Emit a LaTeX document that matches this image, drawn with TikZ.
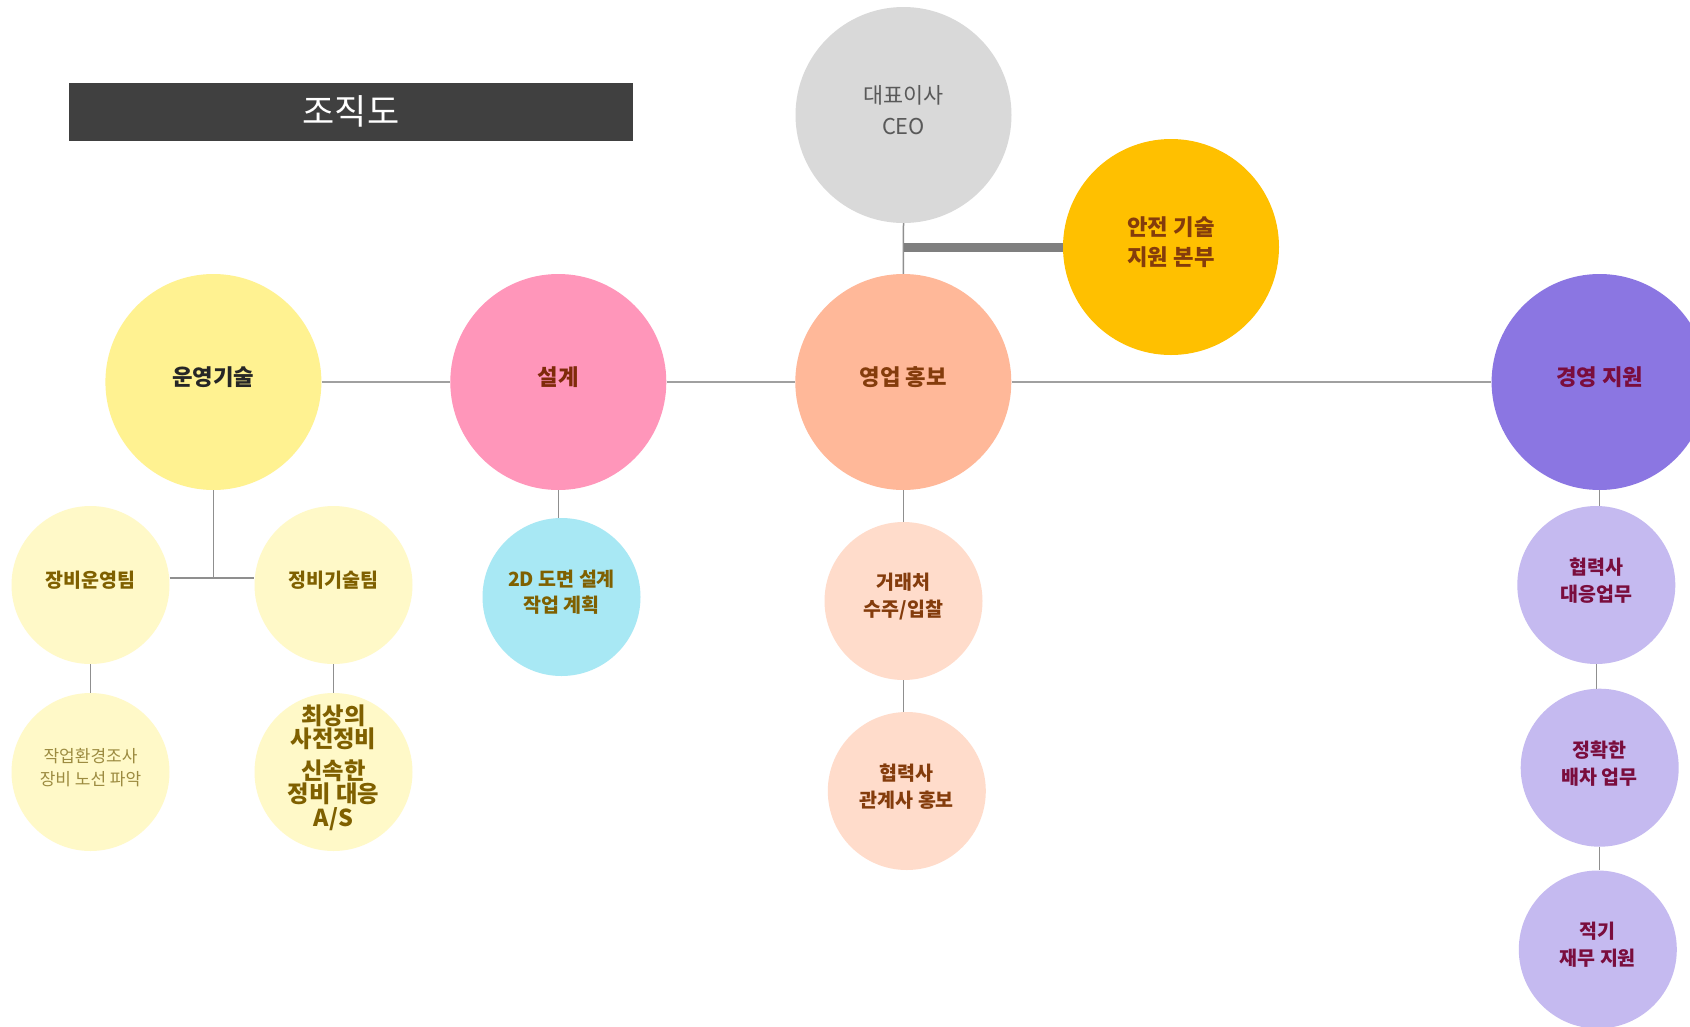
\documentclass[tikz,border=0pt]{standalone}
\usepackage{fontspec}
\setmainfont{Noto Sans CJK KR}
\definecolor{titlebg}{HTML}{404040}
\definecolor{ceoc}{HTML}{D9D9D9}
\definecolor{ceotext}{HTML}{595959}
\definecolor{safec}{HTML}{FFC000}
\definecolor{brown}{HTML}{843C0C}
\definecolor{opsc}{HTML}{FFF291}
\definecolor{opstext}{HTML}{262626}
\definecolor{desc}{HTML}{FF96BA}
\definecolor{destext}{HTML}{7F2A0A}
\definecolor{salesc}{HTML}{FFB899}
\definecolor{mgmtc}{HTML}{8B76E2}
\definecolor{maroon}{HTML}{7A0D3D}
\definecolor{ylight}{HTML}{FFF9C8}
\definecolor{olive}{HTML}{7F6000}
\definecolor{olivelt}{HTML}{9C8B40}
\definecolor{cyanc}{HTML}{A8E8F4}
\definecolor{peach}{HTML}{FFDCCB}
\definecolor{lav}{HTML}{C5BAF0}
\definecolor{linegray}{HTML}{8F8F8F}
\definecolor{bargray}{HTML}{7F7F7F}
\begin{document}
\begin{tikzpicture}[x=1pt,y=-1pt,
  big/.style={circle,minimum size=216pt,inner sep=0pt},
  small/.style={circle,minimum size=158pt,inner sep=0pt},
  txt/.style={align=center,inner sep=0pt,yshift=4.5pt},
  bigfont/.style={font=\fontsize{22.3}{30}\selectfont\bfseries},
  subfont/.style={font=\fontsize{19.5}{27}\selectfont\bfseries},
  link/.style={draw=linegray,line width=1.5pt},
  mainlink/.style={draw=linegray!85,line width=1.6pt},
  bar/.style={draw=bargray,line width=9pt}]
\useasboundingbox (0,0) rectangle (1690,1026);
\clip (0,0) rectangle (1690,1026);
\fill[white] (0,0) rectangle (1690,1026);

% title
\node[fill=titlebg,minimum width=564pt,minimum height=58pt,inner sep=0pt] (title) at (351,112) {};
\node[text=white,font=\fontsize{35}{35}\selectfont,inner sep=0pt] (titleT) at (351,111) {조직도};

% top level
\node[big,fill=ceoc] (ceo) at (903.5,115) {};
\node[txt,text=ceotext,font=\fontsize{21.8}{31}\selectfont] (ceoT) at (ceo) {대표이사\\CEO};
\node[big,fill=safec] (safe) at (1171,247) {};
\node[txt,bigfont,text=brown] (safeT) at (safe) {안전 기술\\지원 본부};

% main row
\node[big,fill=opsc] (ops) at (213.4,382) {};
\node[txt,bigfont,text=opstext] (opsT) at (ops) {운영기술};
\node[big,fill=desc] (des) at (558.3,382) {};
\node[txt,bigfont,text=destext] (desT) at (des) {설계};
\node[big,fill=salesc] (sales) at (903.3,382) {};
\node[txt,bigfont,text=brown] (salesT) at (sales) {영업 홍보};
\node[big,fill=mgmtc] (mgmt) at (1599.6,382) {};
\node[txt,bigfont,text=maroon] (mgmtT) at (mgmt) {경영 지원};

% operations subtree
\node[small,fill=ylight] (t1) at (90.5,585) {};
\node[txt,subfont,text=olive] (t1T) at (t1) {장비운영팀};
\node[small,fill=ylight] (t2) at (333.5,585) {};
\node[txt,subfont,text=olive] (t2T) at (t2) {정비기술팀};
\node[small,fill=ylight] (w1) at (90.5,772) {};
\node[txt,text=olivelt,font=\fontsize{17}{23.5}\selectfont] (w1T) at (w1) {작업환경조사\\장비 노선 파악};
\node[small,fill=ylight] (w2) at (333.5,772) {};
\node[txt,text=olive,font=\fontsize{23.3}{23.5}\selectfont\bfseries] (w2T) at (w2) {최상의\\사전정비\\[8pt]신속한\\정비 대응\\A/S};

% design subtree
\node[small,fill=cyanc] (d1) at (561.5,597) {};
\node[txt,text=olive,font=\fontsize{19.5}{26}\selectfont\bfseries] (d1T) at (d1) {2D 도면 설계\\작업 계획};

% sales subtree
\node[small,fill=peach] (s1) at (903.5,601) {};
\node[txt,subfont,text=brown] (s1T) at (s1) {거래처\\수주/입찰};
\node[small,fill=peach] (s2) at (906.8,791) {};
\node[txt,subfont,text=brown] (s2T) at (s2) {협력사\\관계사 홍보};

% management subtree
\node[small,fill=lav] (m1) at (1596.3,585) {};
\node[txt,subfont,text=maroon] (m1T) at (m1) {협력사\\대응업무};
\node[small,fill=lav] (m2) at (1599.7,767.7) {};
\node[txt,subfont,text=maroon] (m2T) at (m2) {정확한\\배차 업무};
\node[small,fill=lav] (m3) at (1597.8,949.5) {};
\node[txt,subfont,text=maroon] (m3T) at (m3) {적기\\재무 지원};

% connectors
\draw[link] (ceo.south) -- (sales.north);
\coordinate (j) at (903.5,247);
\draw[bar] (j) -- (safe);
\draw[mainlink] (ops) -- (des);
\draw[mainlink] (des) -- (sales);
\draw[mainlink] (sales) -- (mgmt);

\coordinate (jn) at (213.4,578);
\draw[link] (ops.south) -- (jn);
\draw[link] (t1.east |- jn) -- (t2.west |- jn);
\draw[link] (t1.south) -- (t1.south |- w1.north);
\draw[link] (t2.south) -- (t2.south |- w2.north);

\draw[link] (des.south) -- (des.south |- d1.north);
\draw[link] (sales.south) -- (sales.south |- s1.north);
\draw[link] (s1.south) -- (s1.south |- s2.north);

\draw[link] (mgmt.south) -- (mgmt.south |- m1.north);
\draw[link] (m1.south) -- (m1.south |- m2.north);
\draw[link] (m2.south) -- (m2.south |- m3.north);
\end{tikzpicture}
\end{document}
